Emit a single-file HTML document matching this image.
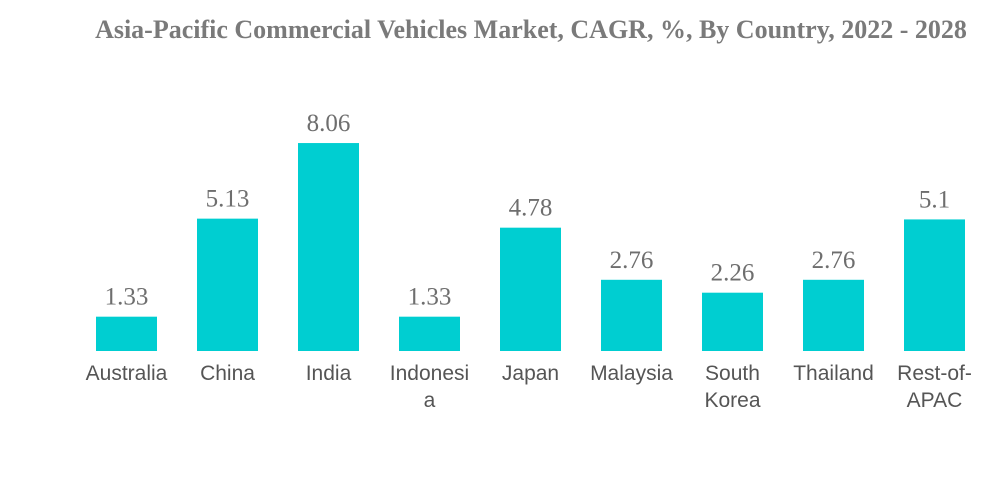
<!DOCTYPE html>
<html><head><meta charset="utf-8"><style>
html,body{margin:0;padding:0;background:#fff;width:1000px;height:483px;overflow:hidden}
</style></head><body>
<svg width="1000" height="483">
<text x="531" y="38" text-anchor="middle" font-family="Liberation Serif, serif" font-weight="bold" font-size="26" fill="#7a7a7a">Asia-Pacific Commercial Vehicles Market, CAGR, %, By Country, 2022 - 2028</text>
<g id="bars"></g>
</svg>
<script>
const categories=[["Australia"],["China"],["India"],["Indonesi","a"],["Japan"],["Malaysia"],["South","Korea"],["Thailand"],["Rest-of-","APAC"]];
const values=[1.33,5.13,8.06,1.33,4.78,2.76,2.26,2.76,5.1];
const labels=["1.33","5.13","8.06","1.33","4.78","2.76","2.26","2.76","5.1"];
const ns="http://www.w3.org/2000/svg";
const g=document.getElementById("bars");
const base=351, scale=25.8, x0=126.5, step=101, bw=61;
const xs=i=>x0+i*step, ys=v=>base-v*scale;
values.forEach((v,i)=>{
  const r=document.createElementNS(ns,"rect");
  r.setAttribute("x",xs(i)-bw/2);r.setAttribute("y",ys(v));
  r.setAttribute("width",bw);r.setAttribute("height",base-ys(v));
  r.setAttribute("fill","#00ced1");
  
  
  g.appendChild(r);
  const t=document.createElementNS(ns,"text");
  t.setAttribute("x",xs(i));t.setAttribute("y",ys(v)-12);
  t.setAttribute("text-anchor","middle");t.setAttribute("font-family","Liberation Serif, serif");
  t.setAttribute("font-size","25");t.setAttribute("fill","#6e6e6e");
  t.textContent=labels[i];
  
  
  g.appendChild(t);
  categories[i].forEach((line,j)=>{
    const c=document.createElementNS(ns,"text");
    c.setAttribute("x",xs(i));c.setAttribute("y",380+j*27);
    c.setAttribute("text-anchor","middle");c.setAttribute("font-family","Liberation Sans, sans-serif");
    c.setAttribute("font-size","21");c.setAttribute("fill","#555");
    c.textContent=line;
    
    
    g.appendChild(c);
  });
});
</script>
</body></html>
